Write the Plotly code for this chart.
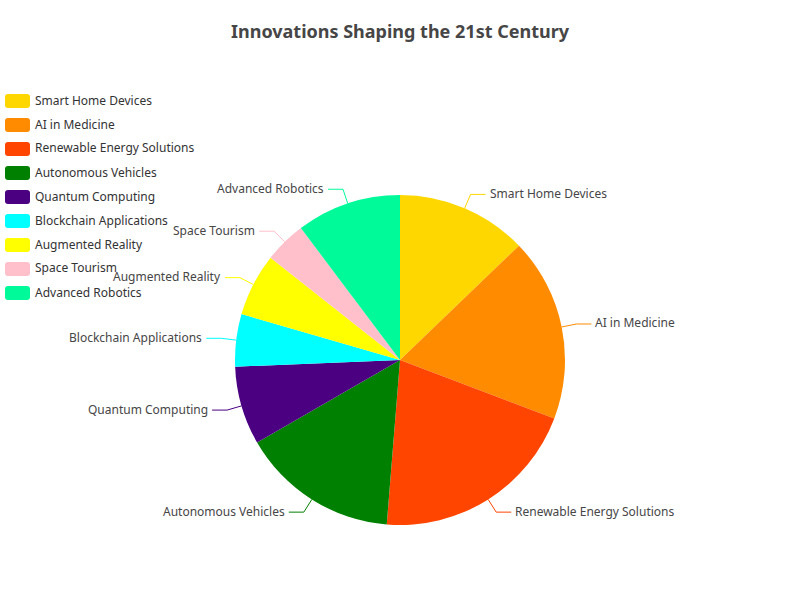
import math
import plotly.graph_objects as go

# ---- data ----
labels = ["Smart Home Devices", "AI in Medicine", "Renewable Energy Solutions",
          "Autonomous Vehicles", "Quantum Computing", "Blockchain Applications",
          "Augmented Reality", "Space Tourism", "Advanced Robotics"]
values = [25, 35, 40, 30, 15, 10, 12, 8, 20]
colors = ["#FFD700", "#FF8C00", "#FF4500", "#008000", "#4B0082",
          "#00FFFF", "#FFFF00", "#FFC0CB", "#00FA9A"]
title_text = "Innovations Shaping the 21st Century"

W, H = 800, 600
CX, CY, R = 400, 360, 165          # pie centre / radius in pixels
FONT = "Noto Sans, Open Sans, sans-serif"


def px(x):
    return x / W


def py(y):
    return 1 - y / H


fig = go.Figure()
fig.add_trace(go.Pie(
    labels=labels, values=values,
    marker=dict(colors=colors, line=dict(width=0)),
    sort=False, direction="clockwise", rotation=0,
    textinfo="none", showlegend=False,
    domain=dict(x=[px(CX - R), px(CX + R)], y=[py(CY + R), py(CY - R)]),
    hovertemplate="%{label}: %{value} (%{percent})<extra></extra>",
))

shapes = []
annotations = []

# leader lines + outside labels, computed from the values
total = sum(values)
cum = 0
L1, L2, GAP = 15, 15, 2
for lab, v, col in zip(labels, values, colors):
    mid = (cum + v / 2) / total * 2 * math.pi
    cum += v
    s, c = math.sin(mid), math.cos(mid)
    x0, y0 = CX + R * s, CY - R * c
    x1, y1 = CX + (R + L1) * s, CY - (R + L1) * c
    sign = 1 if s >= 0 else -1
    x2, y2 = x1 + sign * L2, y1
    shapes.append(dict(
        type="path", xref="paper", yref="paper",
        path=f"M{px(x0)},{py(y0)} L{px(x1)},{py(y1)} L{px(x2)},{py(y2)}",
        line=dict(color=col, width=1),
    ))
    annotations.append(dict(
        xref="paper", yref="paper", x=px(x2 + sign * GAP), y=py(y2),
        xanchor="left" if sign > 0 else "right", yanchor="middle",
        yshift=1, text=lab, showarrow=False,
        font=dict(family=FONT, size=12, color="#464646"),
    ))

# legend (rounded-rect icons like the reference)
LX, LY0, DY, IW, IH, RR = 5, 101, 24, 25, 14, 3
for i, (lab, col) in enumerate(zip(labels, colors)):
    yc = LY0 + i * DY
    xa, xb = LX, LX + IW
    ya, yb = yc - IH / 2, yc + IH / 2
    pts = [
        f"M{px(xa + RR)},{py(ya)}",
        f"L{px(xb - RR)},{py(ya)}",
        f"Q{px(xb)},{py(ya)} {px(xb)},{py(ya + RR)}",
        f"L{px(xb)},{py(yb - RR)}",
        f"Q{px(xb)},{py(yb)} {px(xb - RR)},{py(yb)}",
        f"L{px(xa + RR)},{py(yb)}",
        f"Q{px(xa)},{py(yb)} {px(xa)},{py(yb - RR)}",
        f"L{px(xa)},{py(ya + RR)}",
        f"Q{px(xa)},{py(ya)} {px(xa + RR)},{py(ya)}",
        "Z",
    ]
    shapes.append(dict(type="path", xref="paper", yref="paper",
                       path=" ".join(pts), fillcolor=col,
                       line=dict(width=0)))
    annotations.append(dict(
        xref="paper", yref="paper", x=px(LX + IW + 3), y=py(yc),
        xanchor="left", yanchor="middle", yshift=1, text=lab, showarrow=False,
        font=dict(family=FONT, size=12, color="#333333"),
    ))

fig.update_layout(
    width=W, height=H,
    margin=dict(l=0, r=0, t=0, b=0),
    paper_bgcolor="white", plot_bgcolor="white",
    title=dict(text=f"<b>{title_text}</b>", x=0.5, xanchor="center",
               y=py(32), yanchor="middle",
               font=dict(family=FONT, size=18, color="#464646")),
    shapes=shapes, annotations=annotations,
)

fig.write_html("out.html")
